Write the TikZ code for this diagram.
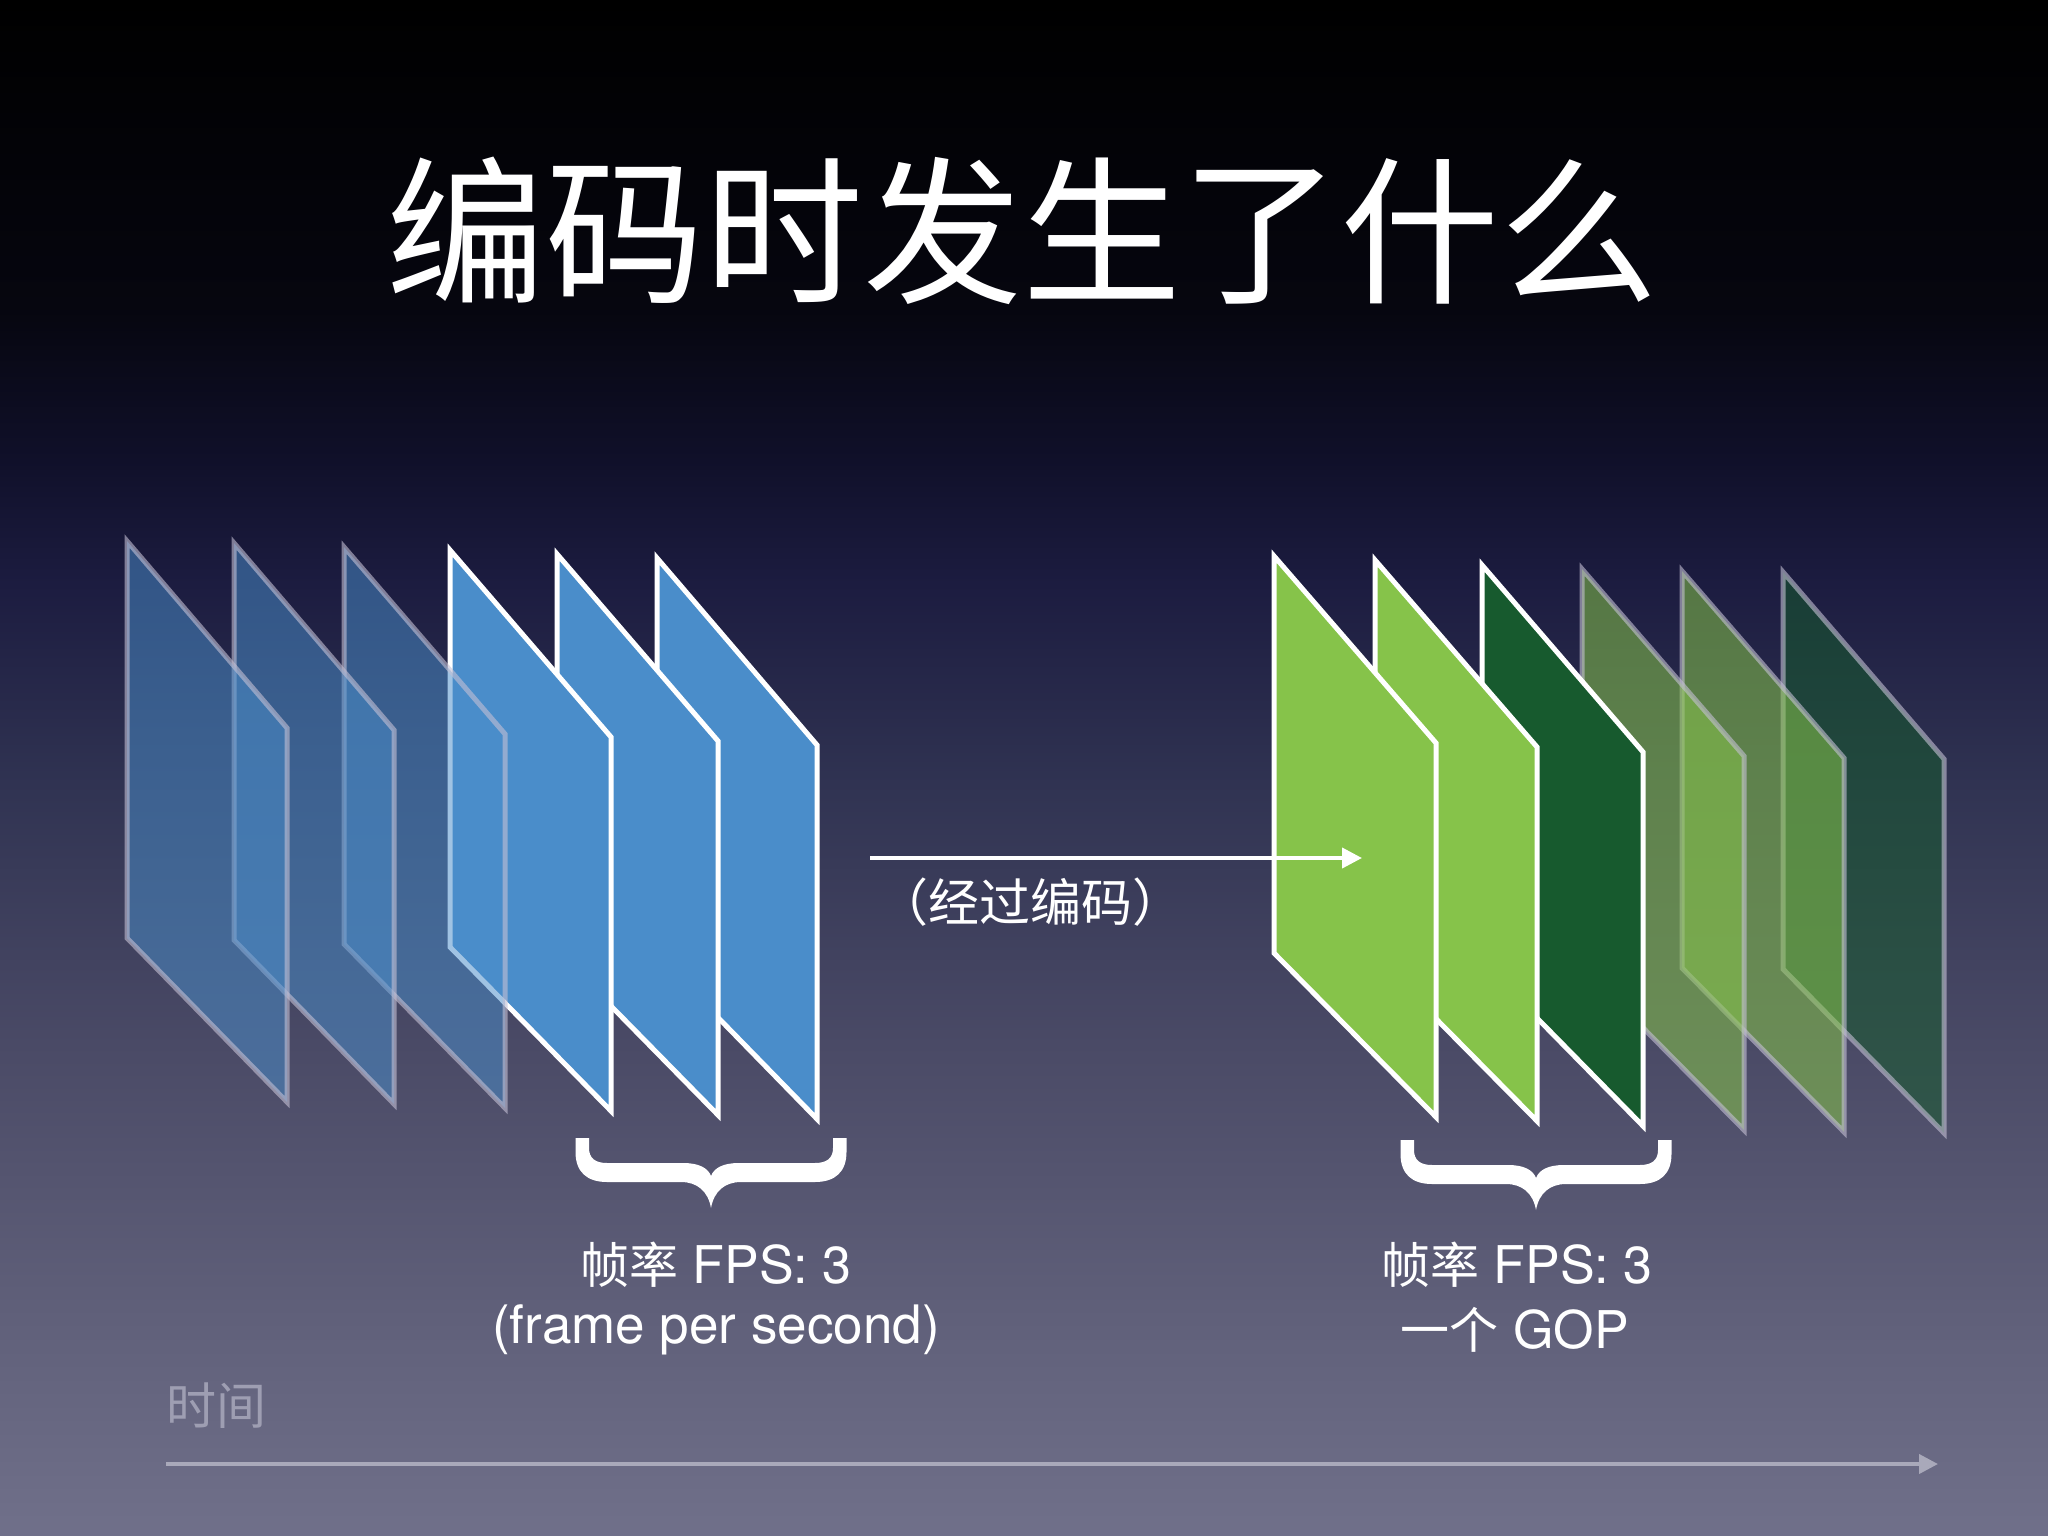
\documentclass[tikz,border=0pt]{standalone}
\usepackage{fontspec}
\setmainfont{TeX Gyre Heros}
\newfontfamily\cjk{Noto Sans CJK SC}
\usetikzlibrary{arrows.meta}
\definecolor{bg0}{HTML}{70708A}
\definecolor{bg1}{HTML}{5F5F79}
\definecolor{bg2}{HTML}{4A4A66}
\definecolor{bg3}{HTML}{303352}
\definecolor{bg4}{HTML}{1C1C40}
\definecolor{bg5}{HTML}{10102A}
\definecolor{bg6}{HTML}{06060F}
\definecolor{bg7}{HTML}{000000}
\definecolor{fblue}{HTML}{4A8DCA}
\definecolor{glight}{HTML}{86C34A}
\definecolor{gdark}{HTML}{175A2E}
\definecolor{fadeline}{HTML}{C4C0D4}
\definecolor{axisgray}{HTML}{A9A9BA}
\definecolor{timegray}{HTML}{9E9EB2}
\pgfdeclareverticalshading{bgshade}{100bp}{color(0bp)=(bg0); color(25bp)=(bg0); color(32.5bp)=(bg1); color(41bp)=(bg2); color(49.5bp)=(bg3); color(56bp)=(bg4); color(60bp)=(bg5); color(65bp)=(bg6); color(75bp)=(bg7); color(100bp)=(bg7)}
\newcommand\myzh[1]{{\cjk #1}}
\begin{document}
\begin{tikzpicture}[x=1pt,y=-1pt,
  txt/.style={inner sep=0pt, outer sep=0pt, text=white, anchor=base},
  solidframe/.style={fill=#1, draw=white, line width=5pt, line join=miter},
  fadeframe/.style={fill=#1, fill opacity=0.52, draw=fadeline, draw opacity=0.6, line width=5pt, line join=miter},
  fadegreen/.style={fill=#1, fill opacity=0.55, draw=fadeline, draw opacity=0.6, line width=5pt, line join=miter},
  encarrow/.style={draw=white, line width=4pt, -{Triangle[length=20pt,width=20pt]}},
  axisarrow/.style={draw=axisgray, line width=4pt, -{Triangle[length=19pt,width=19pt]}},
  bracepic/.pic={
    \fill[white] (-135.5,0) -- (-135.5,14) .. controls (-135.5,34) and (-124,44) .. (-104,44)
      -- (-30,44) .. controls (-14,44) and (-3,53) .. (0,70)
      .. controls (3,53) and (14,44) .. (30,44) -- (104,44)
      .. controls (124,44) and (135.5,34) .. (135.5,14) -- (135.5,0) -- (122,0) -- (122,10)
      .. controls (122,20) and (116,25) .. (104,25) -- (28,25)
      .. controls (12,25) and (3,30) .. (0,38)
      .. controls (-3,30) and (-12,25) .. (-28,25) -- (-104,25)
      .. controls (-116,25) and (-122,20) .. (-122,10) -- (-122,0) -- cycle;
  }]
% background
\shade[shading=bgshade] (0,0) rectangle (2048,1536);
\useasboundingbox (0,0) rectangle (2048,1536);

% title
\node[txt] (title) at (1022,291) {\fontsize{159}{159}\selectfont\cjk 编码时发生了什么};

% left frames (drawn right to left: leftmost in front)
\foreach \x/\y/\w in {657/558/160, 557/554/161, 450/550/161}
  \filldraw[solidframe=fblue] (\x,\y) -- ({\x+\w},{\y+187}) -- ({\x+\w},{\y+561}) -- (\x,{\y+397}) -- cycle;
\foreach \x/\y/\w in {344/547/161, 234/543/160, 127/541/160}
  \filldraw[fadeframe=fblue] (\x,\y) -- ({\x+\w},{\y+187}) -- ({\x+\w},{\y+561}) -- (\x,{\y+397}) -- cycle;

% right frames
\filldraw[fadegreen=gdark] (1783,572) -- (1944,759) -- (1944,1133) -- (1783,969) -- cycle;
\foreach \x/\y/\w in {1682/571/162, 1582/569/162}
  \filldraw[fadegreen=glight] (\x,\y) -- ({\x+\w},{\y+187}) -- ({\x+\w},{\y+561}) -- (\x,{\y+397}) -- cycle;
\filldraw[solidframe=gdark] (1482,565) -- (1643,752) -- (1643,1126) -- (1482,962) -- cycle;
\foreach \x/\y/\w in {1375/560/162, 1274/556/162}
  \filldraw[solidframe=glight] (\x,\y) -- ({\x+\w},{\y+187}) -- ({\x+\w},{\y+561}) -- (\x,{\y+397}) -- cycle;

% encoding arrow
\coordinate (encS) at (870,858);
\coordinate (encE) at (1362,858);
\draw[encarrow] (encS) -- (encE);
\node[txt] (enc) at (1030,921) {\fontsize{51}{51}\selectfont\cjk （经过编码）};

% braces
\pic at (711,1138) {bracepic};
\pic at (1536,1140) {bracepic};

% labels
\node[txt] (fpsL) at (716,1283) {\fontsize{52}{52}\selectfont\myzh{\fontsize{49}{49}\selectfont 帧率} FPS: 3};
\node[txt] (fpsLb) at (716,1343) {\fontsize{53}{53}\selectfont (frame per second)};
\node[txt] (fpsR) at (1517,1283) {\fontsize{52}{52}\selectfont\myzh{\fontsize{49}{49}\selectfont 帧率} FPS: 3};
\node[txt] (gop) at (1515,1348) {\fontsize{52}{52}\selectfont\myzh{\fontsize{49}{49}\selectfont 一个} GOP};

% time axis
\node[txt, text=timegray] (time) at (216,1424) {\fontsize{50}{50}\selectfont\cjk 时间};
\coordinate (axS) at (166,1464);
\coordinate (axE) at (1938,1464);
\draw[axisarrow] (axS) -- (axE);
\end{tikzpicture}
\end{document}
